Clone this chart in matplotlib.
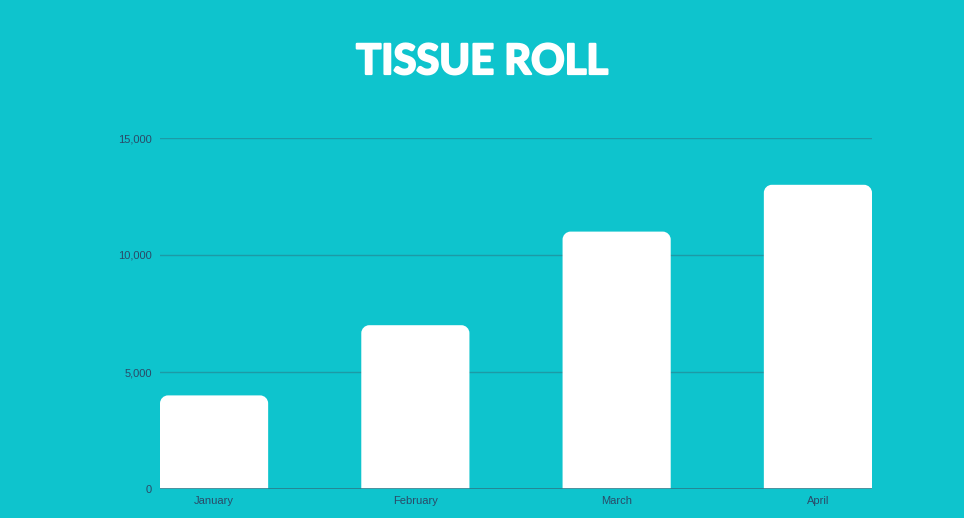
import numpy as np
import matplotlib
matplotlib.use('Agg')
import matplotlib.pyplot as plt
from matplotlib.path import Path
import matplotlib.patches as pat
import matplotlib.patheffects as pe

# data
months = ['January', 'February', 'March', 'April']
values = [4000, 7000, 11000, 13000]
yticks = [0, 5000, 10000, 15000]
ytick_labels = ['0', '5,000', '10,000', '15,000']
title = 'TISSUE ROLL'

# style
bg_color = '#0ec4cd'
grid_color = '#1d9aa6'
base_color = '#2a7d8c'
text_color = '#2b4a68'
bar_color = 'white'
bar_wid = 108 / 201
rad_px = 8

fig = plt.figure(figsize=(9.64, 5.18), dpi=100)
fig.patch.set_facecolor(bg_color)
ax = fig.add_axes([160/964, 29/518, 712/964, 351/518])
ax.set_facecolor(bg_color)

x = np.arange(len(months))
ax.set_xlim(-bar_wid/2, x[-1] + bar_wid/2)
ax.set_ylim(0, 15000)

# corner radius in data units
x_per_px = (x[-1] + bar_wid) / 712
y_per_px = 15000 / 351
rx, ry = rad_px * x_per_px, rad_px * y_per_px
k = 0.5523

def round_top_bar(xc, h):
    x0, x1 = xc - bar_wid/2, xc + bar_wid/2
    verts = [(x0, 0), (x0, h - ry),
             (x0, h - ry + k*ry), (x0 + rx - k*rx, h), (x0 + rx, h),
             (x1 - rx, h),
             (x1 - rx + k*rx, h), (x1, h - ry + k*ry), (x1, h - ry),
             (x1, 0), (x0, 0)]
    codes = [Path.MOVETO, Path.LINETO,
             Path.CURVE4, Path.CURVE4, Path.CURVE4,
             Path.LINETO,
             Path.CURVE4, Path.CURVE4, Path.CURVE4,
             Path.LINETO, Path.CLOSEPOLY]
    return pat.PathPatch(Path(verts, codes), facecolor=bar_color, edgecolor='none', zorder=3)

for xi, v in zip(x, values):
    ax.add_patch(round_top_bar(xi, v))

for yt in yticks[1:]:
    ax.axhline(yt, color=grid_color, lw=1, zorder=1)
ax.axhline(0, color=base_color, lw=1.2, zorder=4)

for s in ax.spines.values():
    s.set_visible(False)
ax.set_xticks(x)
ax.set_xticklabels(months)
ax.set_yticks(yticks)
ax.set_yticklabels(ytick_labels)
ax.tick_params(length=0, colors=text_color, labelsize=8)
ax.tick_params(axis='y', pad=6)
ax.tick_params(axis='x', pad=5)
for lab in ax.get_xticklabels() + ax.get_yticklabels():
    lab.set_family('Liberation Sans')

fig.text(0.5, 1 - 62/518, title, ha='center', va='center', color='white',
         fontsize=30, fontweight='bold', family=['Lato', 'DejaVu Sans'],
         path_effects=[pe.withStroke(linewidth=1.6, foreground='white')])

plt.savefig('out.png', dpi=100, facecolor=bg_color)
